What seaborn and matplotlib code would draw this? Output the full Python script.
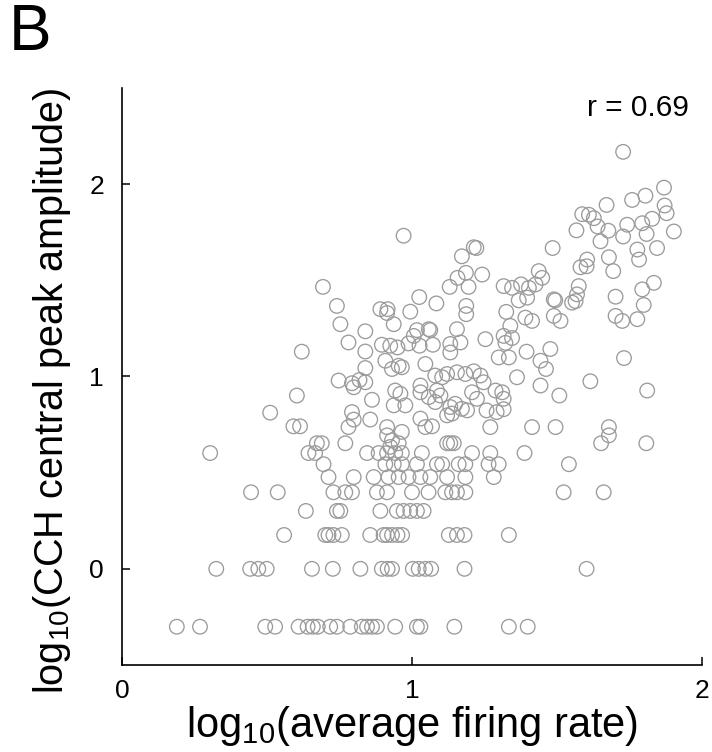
import numpy as np
import pandas as pd
import matplotlib
matplotlib.use("Agg")
import matplotlib.pyplot as plt
import seaborn as sns

# log10 firing rate (x) and log10 CCH central peak amplitude (y) per cell pair
row_m030_x = [0.189, 0.269, 0.494, 0.528, 0.609, 0.640, 0.658, 0.675, 0.718, 0.741,
              0.787, 0.827, 0.845, 0.862, 0.879, 0.942, 1.017, 1.029, 1.146, 1.334, 1.399]
row_000_x = [0.325, 0.442, 0.470, 0.499, 0.655, 0.727, 0.822, 0.896, 0.916, 0.931,
             1.003, 1.023, 1.046, 1.066, 1.181, 1.602]
row_018_x = [0.559, 0.701, 0.712, 0.729, 0.758, 0.856, 0.902, 0.914, 0.931, 0.950,
             0.966, 1.127, 1.155, 1.181, 1.334]
row_030_x = [0.634, 0.741, 0.753, 0.891, 0.948, 0.971, 0.994, 1.017, 1.040]
row_040_x = [0.445, 0.537, 0.729, 0.770, 0.793, 0.879, 0.914, 1.000, 1.057, 1.115,
             1.138, 1.155, 1.184, 1.523, 1.661]
row_048_x = [0.712, 0.799, 0.868, 0.919, 0.954, 0.988, 1.029, 1.063, 1.121, 1.184, 1.282]
row_054_x = [0.695, 0.908, 0.937, 0.965, 1.017, 1.086, 1.104, 1.161, 1.184, 1.264,
             1.299, 1.541]
row_060_x = [0.304, 0.643, 0.666, 0.845, 0.885, 0.914, 0.942, 0.965, 1.034, 1.207,
             1.270, 1.388]
row_065_x = [0.672, 0.689, 0.770, 0.954, 1.121, 1.132, 1.144, 1.652, 1.808]

row_levels = [-0.301, 0.0, 0.176, 0.301, 0.398, 0.477, 0.544, 0.602, 0.653]

upper_x = [0.914, 0.931, 0.925, 1.679, 1.679,
           0.511, 0.591, 0.614, 0.603, 0.620,
           1.414, 1.495, 0.781, 0.914, 1.046, 1.069, 1.270, 0.965,
           0.793, 0.799, 0.856, 1.029, 1.121, 1.138,
           0.862, 0.942, 0.960, 0.937, 0.977, 1.029, 1.058, 1.080, 1.086, 1.098,
           1.132, 1.149, 1.172, 1.190, 1.207, 1.224, 1.257, 1.292, 1.316, 1.288,
           1.311, 1.316,
           0.747, 0.793, 0.799, 0.819, 0.839, 1.029, 1.080, 1.104, 1.121, 1.155,
           1.184, 1.213, 1.236, 1.247,
           0.839, 0.908, 0.931, 0.954, 0.965, 1.046, 1.299,
           0.781, 0.839, 0.896, 0.925, 0.950, 0.988, 1.006, 1.026, 1.072, 1.132,
           1.167, 1.132,
           0.753, 0.839, 0.937, 1.058, 1.155, 1.253, 1.316, 1.345, 1.322, 1.334,
           1.477, 1.395, 1.443, 1.462, 1.362, 1.443, 1.508, 1.731, 1.615, 1.811,
           0.971, 1.172, 1.213, 1.222, 0.693, 0.741, 0.891, 0.916, 0.914, 0.994,
           1.025, 1.084, 1.130, 1.157, 1.186, 1.195, 1.242, 1.187, 1.187, 1.325,
           1.017, 1.063,
           1.728, 1.869, 1.759, 1.805, 1.671, 1.871, 1.878, 1.587, 1.610, 1.627,
           1.640, 1.567, 1.677, 1.650, 1.742, 1.728, 1.794, 1.828, 1.809, 1.903,
           1.845, 1.777, 1.783, 1.485, 1.679, 1.694, 1.604, 1.581, 1.602, 1.437,
           1.449, 1.834, 1.794, 1.575, 1.569, 1.489, 1.494, 1.552, 1.564, 1.702,
           1.799, 1.702, 1.725, 1.777, 1.489, 1.512,
           1.316, 1.345, 1.376, 1.403, 1.426, 1.368, 1.397, 1.391, 1.414, 1.339]
upper_y = [0.694, 0.668, 0.634, 0.737, 0.694,
           0.812, 0.741, 0.741, 0.901, 1.129,
           0.737, 0.737, 0.737, 0.737, 0.737, 0.741, 0.737, 0.712,
           0.815, 0.776, 0.776, 0.781, 0.798, 0.807,
           0.879, 0.927, 0.910, 0.850, 0.850, 0.918, 0.893, 0.867, 0.927, 0.901,
           0.841, 0.858, 0.832, 0.824, 0.918, 0.884, 0.824, 0.815, 0.830, 0.927,
           0.918, 0.884,
           0.979, 0.965, 0.944, 0.982, 0.970, 0.953, 1.005, 0.996, 1.013, 1.022,
           1.013, 1.027, 1.005, 0.970,
           1.044, 1.082, 1.039, 1.056, 1.048, 1.065, 1.099,
           1.177, 1.130, 1.165, 1.160, 1.151, 1.172, 1.211, 1.160, 1.165, 1.169,
           1.177, 1.125,
           1.272, 1.235, 1.272, 1.246, 1.246, 1.194, 1.211, 1.200, 1.175, 1.099,
           1.143, 1.129, 1.082, 1.039, 0.996, 0.953, 0.901, 1.096, 0.975, 0.927,
           1.732, 1.625, 1.672, 1.668, 1.466, 1.367, 1.350, 1.350, 1.330, 1.337,
           1.413, 1.380, 1.466, 1.513, 1.539, 1.466, 1.530, 1.367, 1.324, 1.336,
           1.241, 1.241,
           2.168, 1.982, 1.918, 1.940, 1.892, 1.889, 1.849, 1.844, 1.841, 1.823,
           1.780, 1.760, 1.758, 1.703, 1.789, 1.728, 1.797, 1.820, 1.741, 1.754,
           1.668, 1.660, 1.608, 1.668, 1.620, 1.548, 1.608, 1.568, 1.573, 1.548,
           1.513, 1.487, 1.453, 1.470, 1.427, 1.401, 1.396, 1.384, 1.392, 1.415,
           1.372, 1.315, 1.289, 1.298, 1.315, 1.289,
           1.470, 1.461, 1.479, 1.461, 1.479, 1.396, 1.410, 1.306, 1.289, 1.263]

r_value = 0.69

rows_x = [row_m030_x, row_000_x, row_018_x, row_030_x, row_040_x,
          row_048_x, row_054_x, row_060_x, row_065_x]
xs, ys = [], []
for level, vals in zip(row_levels, rows_x):
    xs += vals
    ys += [level] * len(vals)
xs += upper_x
ys += upper_y
df = pd.DataFrame({"rate": xs, "amp": ys})

sns.set_style("ticks")
plt.rcParams["font.family"] = ["Liberation Sans", "DejaVu Sans"]
plt.rcParams["mathtext.fontset"] = "custom"
plt.rcParams["mathtext.rm"] = "Liberation Sans"
plt.rcParams["mathtext.it"] = "Liberation Sans:italic"
plt.rcParams["text.color"] = "black"
plt.rcParams["axes.labelcolor"] = "black"
plt.rcParams["xtick.color"] = "black"
plt.rcParams["ytick.color"] = "black"

fig = plt.figure(figsize=(7.12, 7.52), dpi=100)
ax = fig.add_axes([122 / 712, 1 - 665 / 752, 580 / 712, 577 / 752])

sns.scatterplot(data=df, x="rate", y="amp", ax=ax, marker="o", s=110,
                facecolor="none", edgecolor="#9b9b9b", linewidth=0.95)

ax.set_xlim(0, 2)
ax.set_ylim(-0.5, 2.5)
ax.set_xticks([0, 1, 2])
ax.set_yticks([0, 1, 2])
ax.tick_params(direction="in", length=6, width=1.1, labelsize=19, colors="black")
ax.tick_params(axis="x", pad=10)
ax.tick_params(axis="y", pad=13)
for side in ["top", "right"]:
    ax.spines[side].set_visible(False)
for side in ["left", "bottom"]:
    ax.spines[side].set_linewidth(1.2)
    ax.spines[side].set_color("black")

ax.set_xlabel(r"log$_{\mathregular{10}}$(average firing rate)", fontsize=30, labelpad=1)
ax.set_ylabel(r"log$_{\mathregular{10}}$(CCH central peak amplitude)", fontsize=28.5, labelpad=12)
ax.yaxis.set_label_coords(-0.085, 0.475)

ax.text(1.955, 2.395, f"r = {r_value:.2f}", ha="right", va="center", fontsize=21.5)
fig.text(9 / 712, 1 - 3 / 752, "B", ha="left", va="top", fontsize=46)

fig.savefig("out.png", dpi=100)
